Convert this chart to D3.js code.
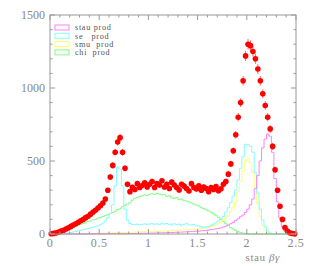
<!DOCTYPE html>
<html>
<head>
<meta charset="utf-8">
<script src="https://cdn.jsdelivr.net/npm/d3@7"></script>
<style>
  body { margin: 0; background: #fff; }
  text { font-family: "Liberation Serif", "DejaVu Serif", serif; }
</style>
</head>
<body>
<div class="chart"></div>
<script>
// bins of 0.025 in stau beta*gamma, from 0 to 2.5
const binWidth = 0.025;

const chiProd = [0, 0, 2, 4, 8, 15, 22, 30, 38, 45,
  52, 60, 66, 72, 76, 86, 90, 97, 100, 108,
  112, 120, 126, 132, 142, 146, 155, 168, 172, 186,
  196, 205, 214, 232, 244, 250, 258, 262, 268, 264,
  272, 276, 270, 280, 274, 268, 272, 258, 262, 248,
  244, 250, 236, 240, 228, 226, 220, 212, 206, 198,
  192, 180, 174, 166, 158, 150, 140, 126, 114, 100,
  86, 70, 58, 44, 34, 24, 16, 10, 6, 3,
  2, 1, 1, 0, 0, 0, 0, 0, 0, 0,
  0, 0, 0, 0, 0, 0, 0, 0, 0, 0];

const seProd = [0, 0, 0, 0, 1, 2, 4, 8, 10, 14,
  18, 22, 26, 30, 34, 38, 42, 46, 50, 56,
  64, 74, 90, 112, 140, 200, 330, 460, 445, 330,
  170, 95, 72, 66, 64, 68, 62, 66, 70, 64,
  68, 72, 66, 70, 64, 74, 68, 72, 66, 62,
  70, 64, 68, 60, 66, 74, 64, 60, 66, 58,
  54, 50, 46, 48, 52, 60, 68, 78, 90, 104,
  120, 150, 180, 215, 260, 300, 370, 450, 530, 615,
  612, 600, 560, 420, 280, 170, 95, 50, 22, 8,
  3, 1, 0, 0, 0, 0, 0, 0, 0, 0];

const smuProd = [0, 0, 0, 0, 0, 0, 0, 0, 1, 1,
  1, 2, 2, 2, 3, 3, 3, 4, 4, 5,
  5, 6, 6, 7, 7, 8, 8, 9, 9, 10,
  10, 11, 12, 12, 13, 14, 14, 15, 16, 16,
  17, 18, 18, 19, 20, 20, 21, 22, 22, 23,
  24, 25, 26, 27, 28, 28, 30, 31, 32, 34,
  36, 38, 40, 42, 46, 50, 56, 62, 72, 82,
  96, 110, 130, 155, 185, 220, 290, 360, 430, 500,
  520, 490, 420, 320, 210, 120, 60, 25, 10, 4,
  1, 0, 0, 0, 0, 0, 0, 0, 0, 0];

const stauProd = [0, 0, 0, 0, 0, 0, 0, 0, 0, 0,
  0, 0, 0, 0, 0, 1, 0, 1, 1, 1,
  1, 1, 1, 2, 1, 2, 2, 2, 2, 2,
  2, 2, 3, 3, 3, 4, 4, 5, 5, 5,
  6, 6, 7, 7, 8, 8, 9, 9, 10, 10,
  11, 12, 12, 13, 14, 15, 16, 17, 18, 19,
  20, 22, 23, 25, 27, 30, 32, 35, 38, 42,
  48, 54, 62, 70, 80, 92, 104, 118, 130, 148,
  170, 200, 240, 310, 400, 500, 590, 650, 685, 670,
  560, 380, 220, 110, 50, 20, 8, 3, 1, 0];

// data points (sum), one per bin
const dataPoints = [2, 4, 8, 14, 20, 26, 34, 42, 52, 62,
  70, 80, 90, 100, 112, 122, 136, 150, 162, 178,
  194, 212, 240, 300, 390, 470, 560, 630, 660, 560,
  450, 340, 290, 320, 305, 345, 318, 332, 350, 322,
  340, 360, 318, 345, 335, 365, 322, 340, 312, 355,
  335, 318, 302, 340, 328, 312, 295, 345, 318, 308,
  330, 300, 322, 312, 290, 318, 305, 325, 296, 310,
  340, 360, 410, 480, 570, 680, 800, 900, 1050, 1220,
  1300, 1290, 1250, 1200, 1130, 1050, 960, 880, 800, 720,
  600, 440, 300, 190, 100, 45, 20, 8, 3, 1];

const legendLabels = ['stau prod', 'se   prod', 'smu  prod', 'chi  prod'];
const xTicks = [0, 0.5, 1, 1.5, 2, 2.5];
const yTicks = [0, 500, 1000, 1500];

const series = [
  { name: legendLabels[0], values: stauProd, color: '#ff80ff' },
  { name: legendLabels[1], values: seProd, color: '#80ffff' },
  { name: legendLabels[2], values: smuProd, color: '#ffff70' },
  { name: legendLabels[3], values: chiProd, color: '#80ff80' }
];

const width = 314, height = 266;
const margin = { top: 15, right: 18, bottom: 32, left: 50 };
const graphWidth = width - margin.left - margin.right;
const graphHeight = height - margin.top - margin.bottom;
const axisColor = '#999';
const textColor = '#888';

const svg = d3.select('.chart')
  .append('svg')
  .attr('width', width)
  .attr('height', height)
  .append('g')
  .attr('transform', 'translate(' + margin.left + ',' + margin.top + ')');

const x = d3.scaleLinear().domain([0, 2.5]).range([0, graphWidth]);
const y = d3.scaleLinear().domain([0, 1500]).range([graphHeight, 0]);

// histograms as steps
const step = d3.line()
  .curve(d3.curveStepAfter)
  .x(d => x(d.x))
  .y(d => y(d.v));

series.slice().reverse().forEach(s => {
  const pts = s.values.map((v, i) => ({ x: i * binWidth, v: v }));
  pts.push({ x: s.values.length * binWidth, v: s.values[s.values.length - 1] });
  svg.append('path')
    .datum(pts)
    .attr('fill', 'none')
    .attr('stroke', s.color)
    .attr('stroke-width', 1)
    .attr('d', step);
});

// data points with error bars
const pts = dataPoints.map((v, i) => ({ x: (i + 0.5) * binWidth, v: v }));
svg.append('g').selectAll('line')
  .data(pts.filter(d => d.v > 0))
  .join('line')
  .attr('x1', d => x(d.x)).attr('x2', d => x(d.x))
  .attr('y1', d => y(d.v + Math.sqrt(d.v)))
  .attr('y2', d => y(Math.max(0, d.v - Math.sqrt(d.v))))
  .attr('stroke', '#ff4040')
  .attr('stroke-width', 0.8);
svg.append('g').selectAll('circle')
  .data(pts)
  .join('circle')
  .attr('cx', d => x(d.x))
  .attr('cy', d => y(d.v))
  .attr('r', 2.8)
  .attr('fill', '#ff0000');

// frame with inward ticks on all sides
svg.append('rect')
  .attr('width', graphWidth).attr('height', graphHeight)
  .attr('fill', 'none').attr('stroke', axisColor).attr('stroke-width', 1);

const minorX = d3.range(0, 26).map(i => i / 10);
const minorY = d3.range(0, 16).map(i => i * 100);
const tickG = svg.append('g').attr('stroke', axisColor).attr('stroke-width', 1);
minorX.forEach(v => {
  const len = xTicks.some(t => Math.abs(t - v) < 1e-6) ? 5 : 2.5;
  tickG.append('line').attr('x1', x(v)).attr('x2', x(v)).attr('y1', graphHeight).attr('y2', graphHeight - len);
  tickG.append('line').attr('x1', x(v)).attr('x2', x(v)).attr('y1', 0).attr('y2', len);
});
minorY.forEach(v => {
  const len = yTicks.includes(v) ? 5 : 2.5;
  tickG.append('line').attr('x1', 0).attr('x2', len).attr('y1', y(v)).attr('y2', y(v));
  tickG.append('line').attr('x1', graphWidth).attr('x2', graphWidth - len).attr('y1', y(v)).attr('y2', y(v));
});

// tick labels
svg.append('g').selectAll('text')
  .data(xTicks)
  .join('text')
  .attr('x', d => x(d))
  .attr('y', graphHeight + 13)
  .attr('text-anchor', 'middle')
  .attr('font-size', 12)
  .attr('letter-spacing', 0.6)
  .attr('fill', textColor)
  .text(d => d);

svg.append('g').selectAll('text')
  .data(yTicks)
  .join('text')
  .attr('x', -5)
  .attr('y', d => y(d) + 4)
  .attr('text-anchor', 'end')
  .attr('font-size', 12)
  .attr('fill', textColor)
  .text(d => d);

// axis title
const title = svg.append('text')
  .attr('x', graphWidth - 16)
  .attr('y', graphHeight + 27)
  .attr('text-anchor', 'end')
  .attr('font-size', 11)
  .attr('letter-spacing', 0.6)
  .attr('fill', textColor);
title.append('tspan').text('stau ');
title.append('tspan').attr('font-style', 'italic').text('βγ');

// legend
const legend = svg.append('g').attr('transform', 'translate(5,12.5)');
series.forEach((s, i) => {
  const row = legend.append('g').attr('transform', 'translate(0,' + (i * 8.3) + ')');
  row.append('rect')
    .attr('x', 0).attr('y', -2.5)
    .attr('width', 14).attr('height', 5)
    .attr('fill', 'none').attr('stroke', s.color).attr('stroke-width', 1);
  row.append('text')
    .attr('x', 20).attr('y', 2.8)
    .attr('font-size', 8.2)
    .attr('letter-spacing', 0.7)
    .attr('fill', '#555')
    .attr('xml:space', 'preserve')
    .style('white-space', 'pre')
    .text(s.name);
});
</script>
</body>
</html>
